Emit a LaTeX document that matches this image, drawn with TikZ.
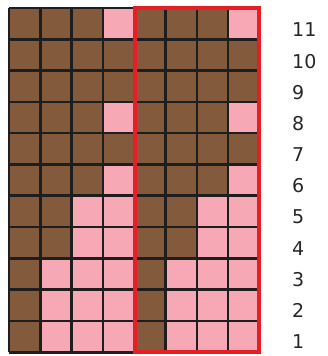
\documentclass[tikz,border=0pt]{standalone}
\usepackage{fontspec}
\setmainfont{DejaVu Sans}
\definecolor{brownc}{RGB}{132,90,61}
\definecolor{pinkc}{RGB}{246,168,181}
\definecolor{redc}{RGB}{232,30,38}
\definecolor{gridc}{RGB}{30,30,30}
\begin{document}
\begin{tikzpicture}[x=1pt,y=1pt,
  cellb/.style={fill=brownc},
  cellp/.style={fill=pinkc},
  gridline/.style={draw=gridc,line width=2.6pt},
  redframe/.style={draw=redc,line width=4pt},
  rowlabel/.style={anchor=west,inner sep=0pt,font=\fontsize{19}{19}\selectfont,text=black!85}]
\useasboundingbox (0,0) rectangle (327,356);
\def\cs{31.3}
\def\xo{9}
\def\yo{3.7}
% fills
\foreach \r/\n in {1/1,2/1,3/1,4/2,5/2,6/3,7/4,8/3,9/4,10/4,11/3}{
  \foreach \c in {0,...,7}{
    \pgfmathtruncatemacro{\k}{mod(\c,4)}
    \ifnum\k<\n
      \fill[brownc] (\xo+\c*\cs,\yo+\r*\cs-\cs) rectangle ++(\cs,\cs);
    \else
      \fill[pinkc] (\xo+\c*\cs,\yo+\r*\cs-\cs) rectangle ++(\cs,\cs);
    \fi
  }
}
% grid
\foreach \c in {0,...,8}{
  \draw[gridline] (\xo+\c*\cs,\yo) -- (\xo+\c*\cs,\yo+11*\cs);
}
\foreach \r in {0,...,11}{
  \draw[gridline] (\xo,\yo+\r*\cs) -- (\xo+8*\cs,\yo+\r*\cs);
}
% red frame
\coordinate (fa) at (\xo+4*\cs+1,\yo);
\coordinate (fb) at (\xo+8*\cs,\yo+11*\cs);
\draw[redframe] (fa) rectangle (fb);
% labels
\foreach \k in {1,...,11}{
  \node[rowlabel] (l\k) at (292,{356-342+(\k-1)*31.2}) {\k};
}
\end{tikzpicture}
\end{document}
